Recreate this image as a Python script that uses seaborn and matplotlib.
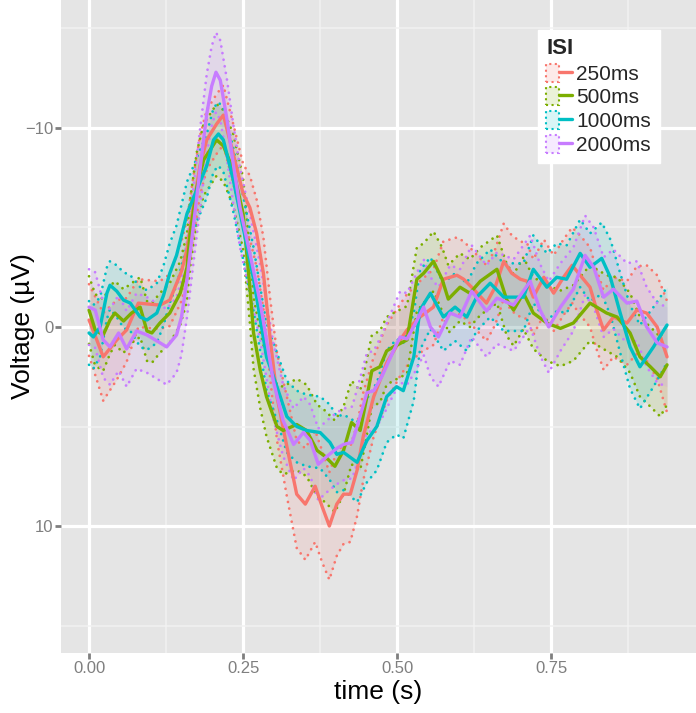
import numpy as np
import pandas as pd
import matplotlib
matplotlib.use("Agg")
import matplotlib.pyplot as plt
import seaborn as sns
from matplotlib.patches import Patch
from matplotlib.lines import Line2D
from matplotlib.legend_handler import HandlerTuple

# ---------------- data: (time s, mean voltage uV, half-width of band) ----------------
isi_labels = ["250ms", "500ms", "1000ms", "2000ms"]
isi_colors = ["#F8766D", "#7CAE00", "#00BFC4", "#C77CFF"]

isi_250 = [
    (0.000, -0.35, 1.8), (0.012, 0.6, 2.0), (0.023, 1.5, 2.2), (0.045, 0.65, 2.0),
    (0.061, 0.15, 1.6), (0.080, -1.2, 1.2), (0.115, -1.1, 1.2), (0.131, -1.35, 1.3),
    (0.150, -2.8, 1.5), (0.159, -3.9, 1.5), (0.169, -6.0, 1.5), (0.180, -8.1, 1.5),
    (0.191, -9.4, 1.5), (0.207, -10.2, 1.5), (0.218, -10.65, 1.5), (0.234, -8.7, 1.5),
    (0.250, -6.7, 1.5), (0.261, -6.0, 1.6), (0.272, -4.7, 1.7), (0.283, -2.7, 1.8),
    (0.294, 0.6, 2.0), (0.305, 3.5, 2.2), (0.321, 6.0, 2.5), (0.337, 8.4, 2.7),
    (0.351, 8.9, 2.8), (0.367, 8.0, 2.8), (0.378, 9.0, 2.8), (0.390, 10.0, 2.7),
    (0.402, 8.9, 2.6), (0.413, 8.4, 2.5), (0.424, 8.4, 2.4), (0.435, 7.2, 2.3),
    (0.445, 5.5, 2.2), (0.462, 3.5, 2.0), (0.483, 1.8, 1.9), (0.505, 0.65, 1.8),
    (0.516, 0.15, 1.8), (0.537, -0.5, 1.8), (0.559, -1.0, 1.9), (0.575, -2.4, 1.9),
    (0.597, -2.6, 1.9), (0.608, -2.4, 1.9), (0.624, -1.9, 1.9), (0.645, -1.2, 1.9),
    (0.659, -2.0, 1.9), (0.673, -3.3, 1.9), (0.686, -2.7, 1.9), (0.700, -2.4, 1.9),
    (0.711, -2.3, 1.9), (0.721, -1.5, 1.9), (0.738, -2.5, 1.9), (0.754, -1.7, 1.9),
    (0.770, -2.5, 1.9), (0.784, -3.1, 1.9), (0.797, -2.6, 2.0), (0.813, -2.0, 2.0),
    (0.824, -0.85, 2.0), (0.835, 0.15, 2.0), (0.851, -0.5, 2.0), (0.873, -0.2, 2.1),
    (0.889, -0.85, 2.2), (0.905, -0.7, 2.4), (0.922, 0.0, 2.6), (0.938, 1.5, 2.8),
]

isi_500 = [
    (0.000, -0.85, 1.7), (0.010, 0.15, 1.8), (0.023, 0.4, 1.8), (0.034, -0.35, 1.7),
    (0.042, -0.7, 1.6), (0.056, -0.3, 1.6), (0.069, -0.7, 1.5), (0.083, -1.0, 1.5),
    (0.094, 0.2, 1.5), (0.102, 0.3, 1.5), (0.115, -0.2, 1.5), (0.131, -0.7, 1.5),
    (0.148, -1.7, 1.6), (0.159, -3.0, 1.7), (0.164, -4.7, 1.7), (0.175, -7.0, 1.8),
    (0.186, -8.4, 1.8), (0.207, -9.4, 1.8), (0.218, -9.1, 1.8), (0.234, -7.9, 1.8),
    (0.250, -5.7, 1.8), (0.261, -2.0, 1.8), (0.267, 0.3, 1.8), (0.278, 2.2, 1.9),
    (0.288, 3.5, 2.0), (0.305, 5.0, 2.1), (0.315, 5.2, 2.2), (0.337, 4.9, 2.3),
    (0.353, 5.2, 2.3), (0.370, 6.2, 2.3), (0.383, 6.5, 2.3), (0.399, 7.0, 2.3),
    (0.413, 6.2, 2.2), (0.426, 4.8, 2.1), (0.440, 5.2, 2.0), (0.451, 3.5, 1.9),
    (0.459, 2.2, 1.8), (0.472, 2.0, 1.8), (0.483, 1.2, 1.7), (0.494, 1.0, 1.7),
    (0.516, 0.65, 1.7), (0.532, -2.4, 1.6), (0.543, -2.7, 1.5), (0.559, -3.3, 1.5),
    (0.573, -2.4, 1.6), (0.583, -1.4, 1.7), (0.602, -2.0, 1.7), (0.618, -1.7, 1.7),
    (0.635, -2.3, 1.7), (0.662, -2.9, 1.7), (0.678, -1.35, 1.8), (0.689, -0.85, 1.8),
    (0.705, -1.7, 1.8), (0.721, -0.7, 1.8), (0.743, -0.2, 1.9), (0.765, 0.07, 1.9),
    (0.786, -0.2, 1.9), (0.813, -1.2, 1.9), (0.840, -0.7, 1.9), (0.857, -0.5, 2.0),
    (0.878, 0.3, 2.0), (0.894, 1.5, 2.0), (0.911, 2.0, 2.0), (0.927, 2.5, 2.0),
    (0.938, 1.9, 2.0),
]

isi_1000 = [
    (0.000, 0.3, 1.6), (0.007, 0.5, 1.6), (0.018, 0.0, 1.5), (0.029, -1.7, 1.3),
    (0.034, -2.1, 1.2), (0.045, -1.8, 1.3), (0.056, -1.35, 1.4), (0.067, -1.2, 1.4),
    (0.083, -0.5, 1.5), (0.094, -0.35, 1.5), (0.110, -0.7, 1.5), (0.121, -1.6, 1.5),
    (0.131, -2.7, 1.5), (0.142, -3.6, 1.5), (0.159, -5.7, 1.6), (0.175, -6.9, 1.6),
    (0.191, -8.1, 1.6), (0.202, -9.4, 1.6), (0.210, -9.7, 1.6), (0.218, -9.4, 1.6),
    (0.234, -7.4, 1.6), (0.250, -5.0, 1.6), (0.267, -2.4, 1.6), (0.278, -0.35, 1.6),
    (0.288, 1.5, 1.7), (0.305, 3.0, 1.7), (0.321, 4.5, 1.8), (0.337, 5.0, 1.8),
    (0.353, 5.2, 1.8), (0.375, 5.3, 1.8), (0.391, 5.8, 1.9), (0.402, 6.4, 1.9),
    (0.413, 6.3, 1.9), (0.435, 6.8, 2.0), (0.451, 5.7, 2.1), (0.467, 5.0, 2.2),
    (0.483, 3.5, 2.3), (0.499, 3.0, 2.4), (0.510, 3.2, 2.4), (0.527, 1.5, 2.2),
    (0.537, -0.85, 2.0), (0.554, -1.7, 1.8), (0.575, -0.5, 1.7), (0.594, -1.0, 1.7),
    (0.613, -0.5, 1.7), (0.629, -1.5, 1.7), (0.651, -2.2, 1.7), (0.673, -1.5, 1.7),
    (0.689, -1.5, 1.7), (0.705, -1.5, 1.7), (0.721, -2.9, 1.7), (0.743, -2.0, 1.7),
    (0.759, -2.5, 1.7), (0.775, -2.4, 1.7), (0.797, -3.7, 1.7), (0.813, -3.0, 1.7),
    (0.832, -3.45, 1.8), (0.846, -2.5, 1.9), (0.862, -0.7, 2.0), (0.878, 1.0, 2.1),
    (0.894, 2.0, 2.1), (0.916, 1.0, 2.0), (0.938, -0.1, 1.9),
]

isi_2000 = [
    (0.000, -1.0, 1.9), (0.010, -0.85, 1.9), (0.023, 0.65, 1.9), (0.034, 1.0, 1.9),
    (0.048, 0.3, 1.9), (0.061, 1.1, 1.9), (0.077, 0.2, 1.9), (0.094, 0.4, 1.9),
    (0.110, 0.7, 1.9), (0.126, 1.0, 1.9), (0.142, 0.4, 1.9), (0.150, -0.5, 1.9),
    (0.159, -2.4, 1.9), (0.169, -5.0, 1.9), (0.180, -7.9, 2.0), (0.191, -10.7, 2.0),
    (0.199, -12.1, 2.0), (0.206, -12.8, 2.0), (0.213, -12.4, 2.0), (0.224, -10.4, 2.0),
    (0.234, -8.2, 2.0), (0.245, -6.0, 2.0), (0.261, -3.7, 2.0), (0.278, -1.2, 1.9),
    (0.299, 2.7, 1.9), (0.315, 4.7, 1.8), (0.332, 5.9, 1.8), (0.348, 5.3, 1.8),
    (0.359, 5.7, 1.8), (0.372, 6.9, 1.8), (0.386, 6.5, 1.8), (0.402, 6.1, 1.8),
    (0.413, 5.9, 1.8), (0.427, 5.8, 1.8), (0.437, 4.8, 1.9), (0.451, 3.3, 2.0),
    (0.462, 3.2, 2.0), (0.475, 2.5, 2.1), (0.494, 1.2, 2.2), (0.505, 0.5, 2.3),
    (0.516, 0.6, 2.3), (0.530, -0.2, 2.4), (0.543, -1.0, 2.4), (0.554, 0.0, 2.5),
    (0.567, 0.5, 2.5), (0.586, -0.7, 2.4), (0.602, -0.5, 2.4), (0.621, -1.8, 2.3),
    (0.645, -0.8, 2.3), (0.662, -1.45, 2.3), (0.689, -1.1, 2.3), (0.716, -2.3, 2.3),
    (0.732, -0.85, 2.3), (0.746, 0.0, 2.3), (0.765, -1.0, 2.2), (0.786, -1.9, 2.1),
    (0.805, -3.6, 2.0), (0.819, -3.0, 2.0), (0.835, -1.5, 2.0), (0.851, -1.9, 2.0),
    (0.873, -1.2, 2.0), (0.889, -1.3, 2.0), (0.905, 0.0, 2.0), (0.922, 0.8, 2.0),
    (0.938, 1.0, 2.0),
]

y_ticks = [-10, 0, 10]
x_ticks = [0.0, 0.25, 0.5, 0.75]
x_ticklabels = ["0.00", "0.25", "0.50", "0.75"]

# ---------------- build long table ----------------
frames = []
for lab, rows in zip(isi_labels, [isi_250, isi_500, isi_1000, isi_2000]):
    d = pd.DataFrame(rows, columns=["time", "voltage", "se"])
    d["lo"] = d["voltage"] - d["se"]
    d["hi"] = d["voltage"] + d["se"]
    d["ISI"] = lab
    frames.append(d)
df = pd.concat(frames, ignore_index=True)
pal = dict(zip(isi_labels, isi_colors))

# ---------------- style ----------------
sns.set_theme(style="darkgrid")
plt.rcParams["font.family"] = ["Liberation Sans", "DejaVu Sans"]
plt.rcParams["axes.unicode_minus"] = True

fig = plt.figure(figsize=(6.96, 7.13), dpi=100)
ax = fig.add_axes([61 / 696, 60 / 713, 635 / 696, 653 / 713])
ax.set_facecolor("#E5E5E5")

# ribbons + dotted bounds
for lab in isi_labels:
    d = df[df["ISI"] == lab]
    c = pal[lab]
    ax.fill_between(d["time"], d["lo"], d["hi"], color=c, alpha=0.13, linewidth=0, zorder=2)
    for col in ["lo", "hi"]:
        sns.lineplot(data=d, x="time", y=col, color=c, ax=ax, legend=False,
                     estimator=None, sort=True, linewidth=2.0,
                     linestyle=(0, (0.01, 2.4)), dash_capstyle="round", zorder=3)

# mean lines
sns.lineplot(data=df, x="time", y="voltage", hue="ISI", hue_order=isi_labels,
             palette=pal, ax=ax, legend=False, estimator=None, sort=True,
             linewidth=2.4, zorder=4, solid_joinstyle="round", solid_capstyle="round")

# axes / grid
ax.set_xlim(-0.0455, 0.985)
ax.set_ylim(16.38, -16.43)
ax.set_xticks(x_ticks)
ax.set_xticklabels(x_ticklabels)
ax.set_yticks(y_ticks)
ax.set_xticks([0.125, 0.375, 0.625, 0.875], minor=True)
ax.set_yticks([-15, -5, 5, 15], minor=True)
ax.grid(which="major", color="white", linewidth=2.3)
ax.grid(which="minor", color="#F2F2F2", linewidth=1.1)
ax.set_axisbelow(True)
for s in ax.spines.values():
    s.set_visible(False)
ax.tick_params(which="major", axis="both", length=4, width=2, color="#7F7F7F",
               labelcolor="#7F7F7F", labelsize=12, pad=1.5, direction="out",
               bottom=True, left=True)
ax.tick_params(which="minor", length=0)

ax.set_xlabel("time (s)", fontsize=19, color="black")
ax.set_ylabel("Voltage (\u00b5V)", fontsize=19, color="black")
ax.xaxis.set_label_coords(0.5, -0.042)
ax.yaxis.set_label_coords(-0.041, 0.5)

# legend
handles = []
for lab in isi_labels:
    c = pal[lab]
    patch = Patch(facecolor=matplotlib.colors.to_rgba(c, 0.15), edgecolor=c,
                  linestyle=":", linewidth=1.5)
    line = Line2D([], [], color=c, linewidth=2.4)
    handles.append((patch, line))
leg = ax.legend(handles, isi_labels, handler_map={tuple: HandlerTuple(ndivide=None, pad=0)},
                loc="upper left", bbox_to_anchor=(0.751, 0.954), title="ISI",
                fontsize=15, title_fontsize=16, frameon=True, fancybox=False,
                framealpha=1, edgecolor="white", facecolor="white",
                handlelength=1.25, handleheight=0.95, labelspacing=0.17,
                handletextpad=0.2, borderpad=0.4, borderaxespad=0)
leg.get_title().set_fontweight("bold")
leg._legend_box.align = "left"
leg._legend_box.sep = 3

fig.savefig("out.png", dpi=100)
